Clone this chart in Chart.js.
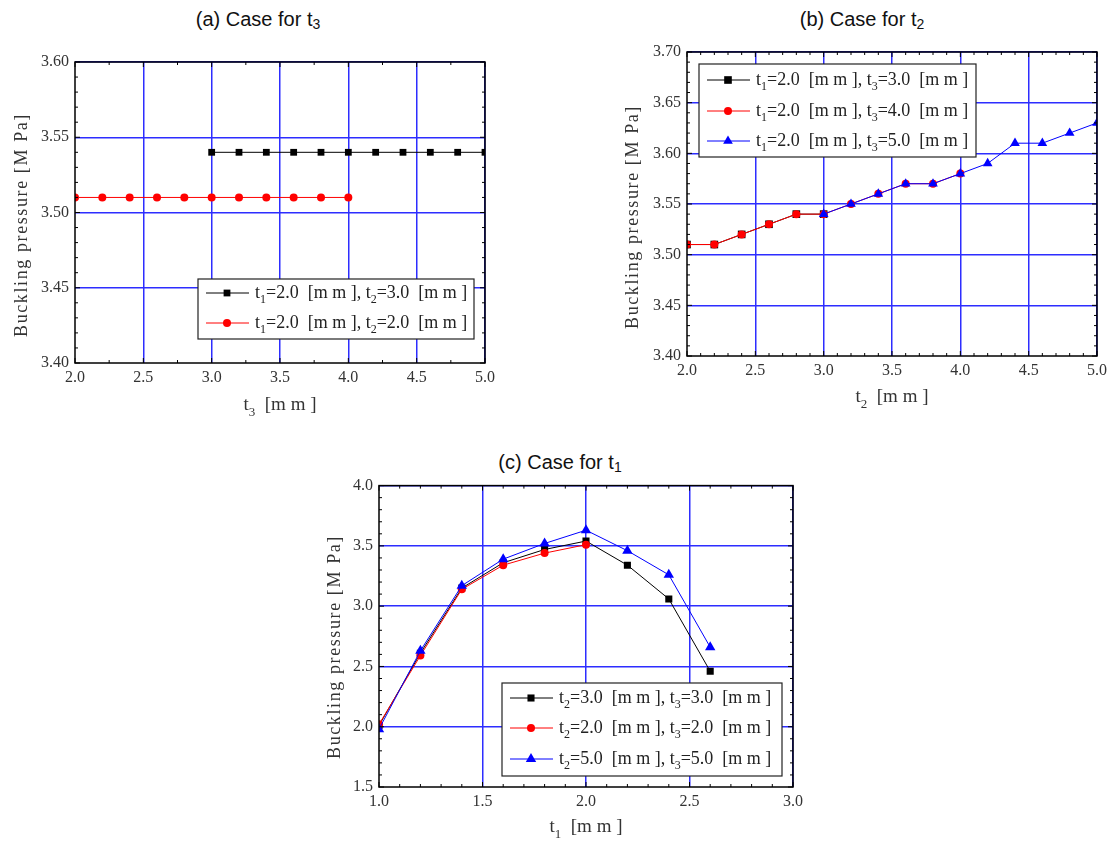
<!DOCTYPE html>
<html>
<head>
<meta charset="utf-8">
<script src="https://cdn.jsdelivr.net/npm/chart.js@4.4.1/dist/chart.umd.min.js"></script>
<style>
  body { margin: 0; background: #fff; width: 1112px; height: 842px; position: relative; overflow: hidden; }
  .box { position: absolute; }
  .ttl { position: absolute; font-family: "Liberation Sans", Arial, sans-serif; font-size: 20px; color: #111;
         transform: translate(-50%, -50%); white-space: nowrap; }
  .ttl sub { font-size: 14px; vertical-align: -3px; }
</style>
</head>
<body>
<div class="ttl" style="left:258px;top:20px">(a) Case for t<sub>3</sub></div>
<div class="ttl" style="left:862px;top:20px">(b) Case for t<sub>2</sub></div>
<div class="ttl" style="left:560px;top:463px">(c) Case for t<sub>1</sub></div>

<div class="box" style="left:0px;top:40px;width:500px;height:385px"><canvas id="chartA"></canvas></div>
<div class="box" style="left:600px;top:35px;width:512px;height:385px"><canvas id="chartB"></canvas></div>
<div class="box" style="left:310px;top:470px;width:510px;height:372px"><canvas id="chartC"></canvas></div>

<script>
// (a) variando t3
const aBlackX = [3.0, 3.2, 3.4, 3.6, 3.8, 4.0, 4.2, 4.4, 4.6, 4.8, 5.0];
const aBlackY = [3.54, 3.54, 3.54, 3.54, 3.54, 3.54, 3.54, 3.54, 3.54, 3.54, 3.54];
const aRedX = [2.0, 2.2, 2.4, 2.6, 2.8, 3.0, 3.2, 3.4, 3.6, 3.8, 4.0];
const aRedY = [3.51, 3.51, 3.51, 3.51, 3.51, 3.51, 3.51, 3.51, 3.51, 3.51, 3.51];
const aLabels = ['t_1=2.0  [m m ], t_2=3.0  [m m ]', 't_1=2.0  [m m ], t_2=2.0  [m m ]'];

// (b) variando t2
const bBlackX = [2.0, 2.2, 2.4, 2.6, 2.8, 3.0];
const bBlackY = [3.51, 3.51, 3.52, 3.53, 3.54, 3.54];
const bRedX = [2.0, 2.2, 2.4, 2.6, 2.8, 3.0, 3.2, 3.4, 3.6, 3.8, 4.0];
const bRedY = [3.51, 3.51, 3.52, 3.53, 3.54, 3.54, 3.55, 3.56, 3.57, 3.57, 3.58];
const bBlueX = [3.0, 3.2, 3.4, 3.6, 3.8, 4.0, 4.2, 4.4, 4.6, 4.8, 5.0];
const bBlueY = [3.54, 3.55, 3.56, 3.57, 3.57, 3.58, 3.59, 3.61, 3.61, 3.62, 3.63];
const bLabels = ['t_1=2.0  [m m ], t_3=3.0  [m m ]', 't_1=2.0  [m m ], t_3=4.0  [m m ]', 't_1=2.0  [m m ], t_3=5.0  [m m ]'];

// (c) variando t1
const cBlackX = [1.0, 1.2, 1.4, 1.6, 1.8, 2.0, 2.2, 2.4, 2.6];
const cBlackY = [2.01, 2.61, 3.15, 3.36, 3.47, 3.54, 3.34, 3.06, 2.46];
const cRedX = [1.0, 1.2, 1.4, 1.6, 1.8, 2.0];
const cRedY = [2.02, 2.59, 3.14, 3.34, 3.44, 3.51];
const cBlueX = [1.0, 1.2, 1.4, 1.6, 1.8, 2.0, 2.2, 2.4, 2.6];
const cBlueY = [1.98, 2.63, 3.17, 3.39, 3.52, 3.63, 3.46, 3.26, 2.66];
const cLabels = ['t_2=3.0  [m m ], t_3=3.0  [m m ]', 't_2=2.0  [m m ], t_3=2.0  [m m ]', 't_2=5.0  [m m ], t_3=5.0  [m m ]'];

const yTitle = 'Buckling pressure [M Pa]';
const SERIF = '"Liberation Serif", "Times New Roman", serif';
const GRID_BLUE = 'rgb(45,45,255)';

const pts = (xs, ys) => xs.map((x, i) => ({ x: x, y: ys[i] }));

// dibuja un marcador como los de Chart.js
function marker(ctx, style, r, x, y, color) {
  ctx.save();
  ctx.fillStyle = color;
  ctx.beginPath();
  if (style === 'rect') {
    const s = r * Math.SQRT2 / 2;
    ctx.rect(x - s, y - s, 2 * s, 2 * s);
  } else if (style === 'triangle') {
    ctx.moveTo(x, y - r);
    ctx.lineTo(x + r * 0.866, y + r * 0.5);
    ctx.lineTo(x - r * 0.866, y + r * 0.5);
    ctx.closePath();
  } else {
    ctx.arc(x, y, r, 0, Math.PI * 2);
  }
  ctx.fill();
  ctx.restore();
}

// texto con subindices: "t_1" -> t con 1 abajo
function subText(ctx, str, x, y, size, align) {
  const parts = [];
  let i = 0, buf = '';
  while (i < str.length) {
    if (str[i] === '_') {
      if (buf) parts.push([buf, false]);
      buf = '';
      parts.push([str[i + 1], true]);
      i += 2;
    } else { buf += str[i]; i++; }
  }
  if (buf) parts.push([buf, false]);
  const big = size + 'px ' + SERIF, small = Math.round(size * 0.68) + 'px ' + SERIF;
  let total = 0;
  parts.forEach(p => { ctx.font = p[1] ? small : big; total += ctx.measureText(p[0]).width; });
  let cx = align === 'center' ? x - total / 2 : x;
  ctx.textBaseline = 'middle';
  ctx.textAlign = 'left';
  parts.forEach(p => {
    ctx.font = p[1] ? small : big;
    ctx.fillText(p[0], cx, p[1] ? y + size * 0.38 : y);
    cx += ctx.measureText(p[0]).width;
  });
}

const framePlugin = {
  id: 'frameExtras',
  afterDraw(chart, args, o) {
    const ctx = chart.ctx;
    const a = chart.chartArea;
    const xs = chart.scales.x, ys = chart.scales.y;
    const ox = o.offX, oy = o.offY;
    ctx.save();
    ctx.strokeStyle = '#000';
    ctx.lineWidth = 1;
    // marcas hacia dentro en los cuatro lados
    const doTicks = (scale, min, major, minor, horiz) => {
      const n = Math.round((scale.max - min) / minor);
      for (let i = 0; i <= n; i++) {
        const v = min + i * minor;
        const q = (v - min) / major;
        const len = Math.abs(q - Math.round(q)) < 1e-6 ? 5 : 3;
        const p = scale.getPixelForValue(v);
        ctx.beginPath();
        if (horiz) {
          ctx.moveTo(p, a.bottom); ctx.lineTo(p, a.bottom - len);
          ctx.moveTo(p, a.top); ctx.lineTo(p, a.top + len);
        } else {
          ctx.moveTo(a.left, p); ctx.lineTo(a.left + len, p);
          ctx.moveTo(a.right, p); ctx.lineTo(a.right - len, p);
        }
        ctx.stroke();
      }
    };
    doTicks(xs, xs.min, o.xMajor, o.xMinor, true);
    doTicks(ys, ys.min, o.yMajor, o.yMinor, false);
    ctx.lineWidth = 1.5;
    ctx.strokeRect(a.left, a.top, a.right - a.left, a.bottom - a.top);

    // leyenda
    const L = o.legend;
    const lx = L.x - ox, ly = L.y - oy;
    ctx.fillStyle = '#fff';
    ctx.fillRect(lx, ly, L.w, L.h);
    ctx.lineWidth = 1.2;
    ctx.strokeStyle = '#222';
    ctx.strokeRect(lx, ly, L.w, L.h);
    chart.data.datasets.forEach((ds, i) => {
      const ry = L.rows[i] - oy;
      ctx.strokeStyle = ds.borderColor;
      ctx.lineWidth = 1;
      ctx.beginPath();
      ctx.moveTo(lx + 8, ry); ctx.lineTo(lx + 51, ry);
      ctx.stroke();
      marker(ctx, ds.pointStyle, ds.pointRadius, lx + 29, ry, ds.backgroundColor);
      ctx.fillStyle = '#222';
      subText(ctx, o.labels[i], lx + 57, ry, 18, 'left');
    });

    // titulo eje x
    ctx.fillStyle = '#333';
    subText(ctx, o.xTitle, (a.left + a.right) / 2, o.xTitleY - oy, 19, 'center');
    // titulo eje y
    ctx.save();
    ctx.translate(o.yTitleX - ox, o.yTitleY - oy);
    ctx.rotate(-Math.PI / 2);
    ctx.font = '18px ' + SERIF;
    ctx.letterSpacing = '1.6px';
    ctx.textAlign = 'center';
    ctx.textBaseline = 'middle';
    ctx.fillText(yTitle, 0, 0);
    ctx.restore();
    ctx.restore();
  }
};

function ds(data, color, style, r, order) {
  return {
    data: data, borderColor: color, backgroundColor: color, pointBackgroundColor: color,
    pointBorderColor: color, pointBorderWidth: 0, pointStyle: style, pointRadius: r,
    pointHoverRadius: r, borderWidth: 1, tension: 0, order: order
  };
}

function makeChart(id, box, area, axes, datasets, extras) {
  const tickFont = { family: SERIF, size: 16 };
  const gridColor = (ctx) => (ctx.index === 0 || ctx.tick === undefined) ? 'rgba(0,0,0,0)' : GRID_BLUE;
  return new Chart(document.getElementById(id), {
    type: 'line',
    data: { datasets: datasets },
    options: {
      responsive: true,
      maintainAspectRatio: false,
      animation: false,
      events: [],
      layout: { padding: { top: area.t - box.y, right: box.x + box.w - area.r, left: 0, bottom: 0 } },
      plugins: {
        legend: { display: false },
        tooltip: { enabled: false },
        frameExtras: Object.assign({ offX: box.x, offY: box.y }, extras)
      },
      scales: {
        x: {
          type: 'linear', min: axes.xMin, max: axes.xMax,
          ticks: { stepSize: axes.xStep, callback: v => v.toFixed(1), font: tickFont, color: '#333',
                   padding: 5, maxRotation: 0, autoSkip: false },
          grid: { color: gridColor, drawTicks: false, lineWidth: 1.5 },
          border: { display: false },
          afterFit: s => { s.height = box.y + box.h - area.b; }
        },
        y: {
          type: 'linear', min: axes.yMin, max: axes.yMax,
          ticks: { stepSize: axes.yStep, callback: v => v.toFixed(axes.yDec), font: tickFont, color: '#333',
                   padding: 6, autoSkip: false },
          grid: { color: gridColor, drawTicks: false, lineWidth: 1.5 },
          border: { display: false },
          afterFit: s => { s.width = area.l - box.x; }
        }
      }
    },
    plugins: [framePlugin]
  });
}

makeChart('chartA', { x: 0, y: 40, w: 500, h: 385 }, { l: 75, t: 62, r: 486, b: 363 },
  { xMin: 2, xMax: 5, xStep: 0.5, yMin: 3.4, yMax: 3.6, yStep: 0.05, yDec: 2 },
  [ds(pts(aBlackX, aBlackY), '#000', 'rect', 4.8, 2), ds(pts(aRedX, aRedY), '#ff0000', 'circle', 4, 1)],
  { xMajor: 0.5, xMinor: 0.25, yMajor: 0.05, yMinor: 0.01, labels: aLabels,
    legend: { x: 198, y: 279, w: 276, h: 60, rows: [293, 323] },
    xTitle: 't_3  [m m ]', xTitleY: 405, yTitleX: 22, yTitleY: 225 });

makeChart('chartB', { x: 600, y: 35, w: 512, h: 385 }, { l: 687, t: 52, r: 1099, b: 356 },
  { xMin: 2, xMax: 5, xStep: 0.5, yMin: 3.4, yMax: 3.7, yStep: 0.05, yDec: 2 },
  [ds(pts(bBlackX, bBlackY), '#000', 'rect', 5.4, 3), ds(pts(bRedX, bRedY), '#ff0000', 'circle', 4, 2),
   ds(pts(bBlueX, bBlueY), '#0000ff', 'triangle', 5.6, 1)],
  { xMajor: 0.5, xMinor: 0.1, yMajor: 0.05, yMinor: 0.01, labels: bLabels,
    legend: { x: 699, y: 64, w: 277, h: 93, rows: [80, 111, 141] },
    xTitle: 't_2  [m m ]', xTitleY: 397, yTitleX: 633, yTitleY: 217 });

makeChart('chartC', { x: 310, y: 470, w: 510, h: 372 }, { l: 379, t: 484, r: 793, b: 787 },
  { xMin: 1, xMax: 3, xStep: 0.5, yMin: 1.5, yMax: 4.0, yStep: 0.5, yDec: 1 },
  [ds(pts(cBlackX, cBlackY), '#000', 'rect', 5, 3), ds(pts(cRedX, cRedY), '#ff0000', 'circle', 4, 2),
   ds(pts(cBlueX, cBlueY), '#0000ff', 'triangle', 6, 1)],
  { xMajor: 0.5, xMinor: 0.1, yMajor: 0.5, yMinor: 0.1, labels: cLabels,
    legend: { x: 502, y: 683, w: 280, h: 93, rows: [698, 728, 759] },
    xTitle: 't_1  [m m ]', xTitleY: 827, yTitleX: 335, yTitleY: 647 });
</script>
</body>
</html>
